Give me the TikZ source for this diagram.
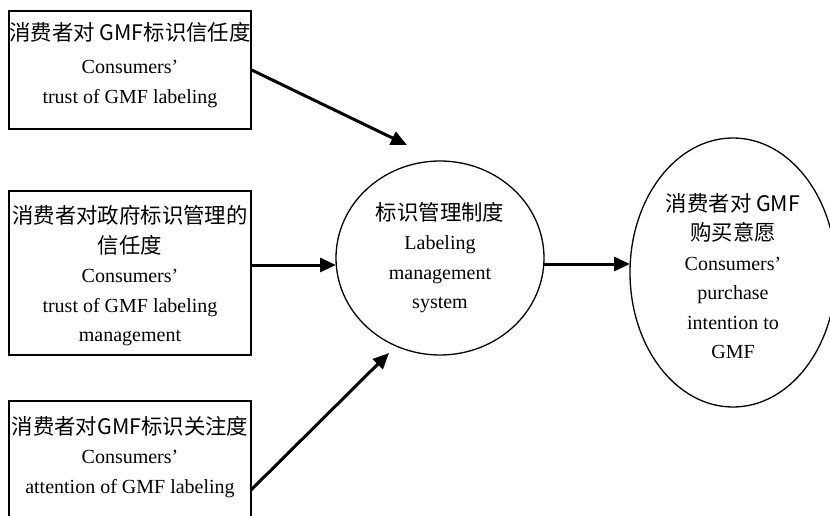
\documentclass[tikz,border=0pt]{standalone}
\usepackage{fontspec}
\setmainfont{Liberation Serif}
\newfontfamily\cjk[Scale=1.07]{Noto Sans CJK SC}
\usetikzlibrary{arrows.meta,shapes.geometric}
\tikzset{
  txt/.style={font=\fontsize{20}{29.5}\selectfont, align=center, inner sep=0pt},
  boxnode/.style={draw, line width=1.4pt, minimum width=242pt, inner sep=0pt},
  ovalnode/.style={draw, ellipse, line width=1.3pt, inner sep=0pt},
  arr/.style={line width=3pt, -{Triangle[length=16pt,width=14pt]}}
}
\begin{document}
\begin{tikzpicture}[x=1pt,y=-1pt]
\clip (0,0) rectangle (830,516);
\useasboundingbox (0,0) rectangle (830,516);
\node[boxnode, minimum height=118pt] (b1) at (130,70) {};
\node[txt] (b1t) at (130,65)
  {\cjk{消费者对} GMF\cjk{标识信任度}\\[4pt]Consumers’\\trust of GMF labeling};
\node[boxnode, minimum height=164pt] (b2) at (130,273) {};
\node[txt] (b2t) at (130,276)
  {\cjk{消费者对政府标识管理的}\\\cjk{信任度}\\Consumers’\\trust of GMF labeling\\management};
\node[boxnode, minimum height=122pt] (b3) at (130,462) {};
\node[txt] (b3t) at (130,457)
  {\cjk{消费者对}GMF\cjk{标识关注度}\\Consumers’\\attention of GMF labeling};
\node[ovalnode, minimum width=208pt, minimum height=194pt] (c) at (440,258) {};
\node[txt] (ct) at (440,257.5)
  {\cjk{标识管理制度}\\Labeling\\management\\system};
\node[ovalnode, minimum width=206pt, minimum height=269pt] (e) at (733,272.5) {};
\node[txt] (et) at (733,276)
  {\cjk{消费者对} GMF\\\cjk{购买意愿}\\Consumers’\\purchase\\intention to\\GMF};
\coordinate (t1) at (407,145);
\coordinate (s2) at (251,265);
\coordinate (t2) at (336,265);
\coordinate (s3) at (251,490);
\coordinate (t3) at (389,353);
\coordinate (s4) at (544,264);
\coordinate (t4) at (630,264);
\draw[arr] (b1.east) -- (t1);
\draw[arr] (s2) -- (t2);
\draw[arr] (s3) -- (t3);
\draw[arr] (s4) -- (t4);
\end{tikzpicture}
\end{document}
